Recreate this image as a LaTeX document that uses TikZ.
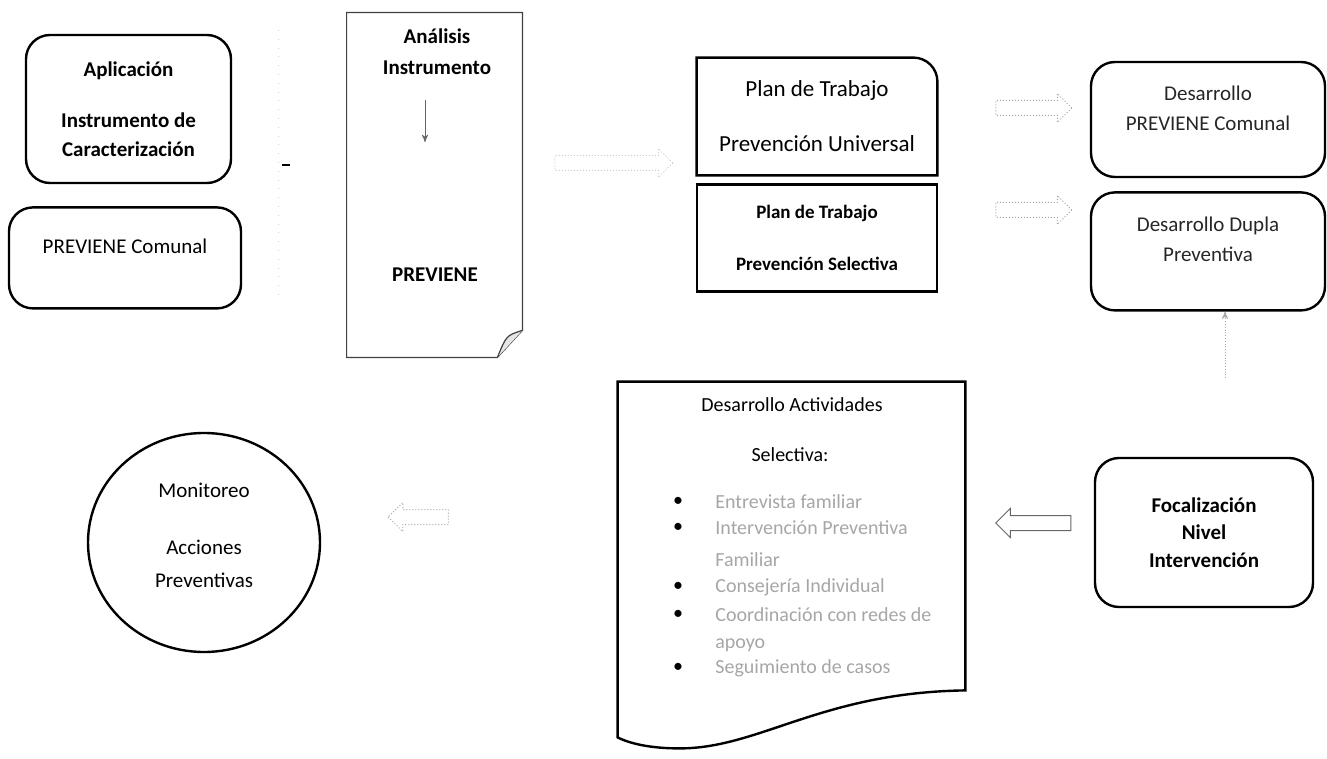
\documentclass[tikz,border=0pt]{standalone}
\usepackage{fontspec}
\setmainfont{Carlito}
\usepackage{tikz}
\usetikzlibrary{arrows,positioning,shapes.arrows,shapes.geometric,calc}

\tikzset{
  rbox/.style={draw, line width=1.2pt, rounded corners=12pt, inner sep=0pt, align=center},
  sbox/.style={inner sep=0pt, align=center},
  txt/.style={inner sep=0pt, align=center},
  boxline/.style={line width=1.2pt},
  docline/.style={draw=black!75, line width=0.6pt},
  farrow/.style={single arrow, draw=black!35, densely dotted, line width=0.5pt,
    minimum height=38pt, minimum width=14pt, single arrow head extend=3.5pt,
    inner xsep=0pt, inner ysep=3.5pt},
  bftext/.style={font=\bfseries\fontsize{10.5}{14.5}\selectfont},
  rmtext/.style={font=\fontsize{10.5}{15}\selectfont},
  itemtext/.style={font=\fontsize{10}{14}\selectfont, text=black!35, inner sep=0pt, anchor=west}
}

\begin{document}
\begin{tikzpicture}[x=0.5pt,y=-0.5pt,>=stealth']

\useasboundingbox (0,0) rectangle (1327,759);

% left column
\node[rbox,bftext,minimum width=102.5pt,minimum height=74pt] (apl) at (128.5,109)
  {Aplicación\\[11pt]Instrumento de\\Caracterización};
\node[rbox,minimum width=116pt,minimum height=50.5pt] (comunal) [below=11pt of apl,xshift=-1.75pt] {};
\node[txt,rmtext] (comunalt) at ([yshift=6pt]comunal.center) {PREVIENE Comunal};

% faded marks
\coordinate (v1) at (278,30);
\coordinate (v2) at (278,300);
\coordinate (t1) at (282,165);
\coordinate (t2) at (290,165);
\draw[black!18,loosely dotted] (v1) -- (v2);
\draw[line width=1pt] (t1) -- (t2);

% analisis document
\node[sbox,minimum width=87.5pt,minimum height=172pt] (ana) at (434.5,185) {};
\draw[docline] (ana.north west) -- (ana.north east) -- ([yshift=13.5pt]ana.south east)
  -- ([xshift=-12.5pt]ana.south east) -- (ana.south west) -- cycle;
\draw[docline,fill=black!10] ([xshift=-12.5pt]ana.south east)
  .. controls ([xshift=-8pt,yshift=11pt]ana.south east) .. ([yshift=13.5pt]ana.south east);
\node[txt,font=\bfseries\fontsize{10.5}{15.5}\selectfont] (anat) at (437,52) {Análisis\\Instrumento};
\coordinate (a1) at (425,100);
\coordinate (a2) at (425,142);
\draw[->,black!60] (a1) -- (a2);
\node[txt,bftext] (anab) at (435,275) {PREVIENE};

\node[farrow,draw=black!20,minimum height=59pt] (ar0) at (610,163) {};

% planes de trabajo
\node[sbox,minimum width=120pt,minimum height=58.5pt,font=\fontsize{11.5}{27.5}\selectfont] (univ) at (817,116.5)
  {Plan de Trabajo\\Prevención Universal};
\draw[boxline] (univ.south west) -- (univ.north west) -- ([xshift=-12pt]univ.north east)
  to[out=0,in=90] ([yshift=-12pt]univ.north east) -- (univ.south east) -- cycle;
\node[draw,boxline,sbox,minimum width=120pt,minimum height=53.5pt,font=\bfseries\fontsize{9.5}{26}\selectfont]
  (sel) [below=4pt of univ] {Plan de Trabajo\\Prevención Selectiva};

\node[farrow] (ar1) at (1030,108) {};
\node[farrow] (ar2) at (1030,210) {};

% right column
\node[rbox,minimum width=117pt,minimum height=57.5pt] (dev1) at (1208,119.5) {};
\node[txt,rmtext,text=black!85] (dev1t) at ([yshift=5.75pt]dev1.center) {Desarrollo\\PREVIENE Comunal};
\node[rbox,minimum width=117pt,minimum height=59pt] (dev2) [below=6.5pt of dev1] {};
\node[txt,rmtext,text=black!85] (dev2t) at ([yshift=6pt]dev2.center) {Desarrollo Dupla\\Preventiva};

\node[rbox,font=\bfseries\fontsize{10.5}{13.75}\selectfont,minimum width=109pt,minimum height=74.5pt]
  (focal) at (1204,532.5) {Focalización\\Nivel\\Intervención};
\coordinate (v3) at (1225,378);
\draw[->,black!35,densely dotted] (v3) -- (v3 |- dev2.south);

\node[farrow,draw=black!60,solid,shape border rotate=180,minimum height=37.5pt] (ar3) at (1037,523) {};

% actividades document
\node[sbox,minimum width=173.5pt,minimum height=177.5pt] (act) at (791.5,559.5) {};
\draw[boxline] (act.north west) -- (act.north east) -- ([yshift=23.5pt]act.south east)
  .. controls +(-72pt,-1pt) and +(40pt,0pt) .. ([xshift=31pt,yshift=-5.5pt]act.south west)
  .. controls +(-15pt,0pt) and +(6pt,-3pt) .. (act.south west) -- cycle;
\node[txt,font=\fontsize{10}{12}\selectfont] (actt) at (792,405) {Desarrollo Actividades};
\node[txt,font=\fontsize{10}{12}\selectfont] (acts) at (790,455) {Selectiva:};

\node[txt] (b1) at (678,502) {\textbullet};
\node[txt] (b2) at (678,528) {\textbullet};
\node[txt] (b3) at (678,587) {\textbullet};
\node[txt] (b4) at (678,615) {\textbullet};
\node[txt] (b5) at (678,668) {\textbullet};
\node[itemtext] (i1) at (715,502) {Entrevista familiar};
\node[itemtext] (i2) at (715,528) {Intervención Preventiva};
\node[itemtext] (i2b) at (715,560) {Familiar};
\node[itemtext] (i3) at (715,587) {Consejería Individual};
\node[itemtext] (i4) at (715,615) {Coordinación con redes de};
\node[itemtext] (i4b) at (715,645) {apoyo};
\node[itemtext] (i5) at (715,668) {Seguimiento de casos};

\node[farrow,minimum height=30pt] (ar4) [shape border rotate=180] at (422,517) {};

% monitoreo
\node[draw,ellipse,line width=1.2pt,minimum width=116pt,minimum height=109.5pt,inner sep=0pt] (mon) at (204,542.5) {};
\node[txt,font=\fontsize{10.5}{16.5}\selectfont] (mont) at ([yshift=3.5pt]mon.center)
  {Monitoreo\\[12pt]Acciones\\Preventivas};

\end{tikzpicture}
\end{document}
